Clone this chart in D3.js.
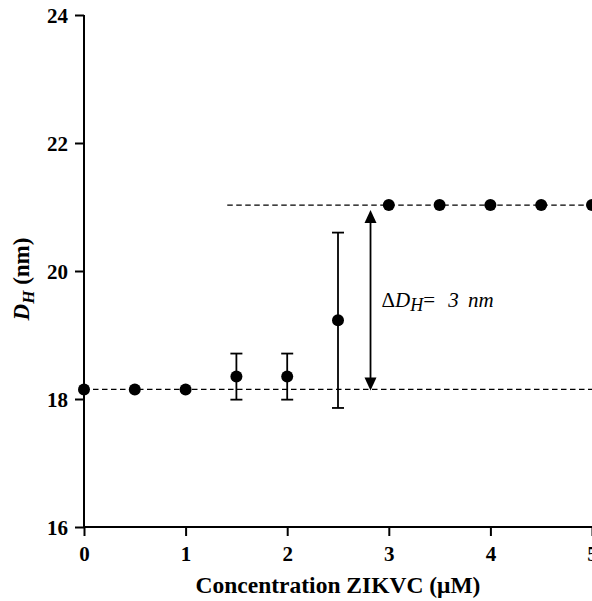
<!DOCTYPE html>
<html>
<head>
<script src="https://cdn.jsdelivr.net/npm/d3@7"></script>
</head>
<body style="margin:0">
<svg id="chart" width="592" height="601"></svg>
<script>
// Hydrodynamic diameter vs. ZIKVC concentration
const concentrations = [0, 0.5, 1, 1.5, 2, 2.5, 3, 3.5, 4, 4.5, 5];
const diameters      = [18.15, 18.15, 18.15, 18.35, 18.35, 19.23, 21.03, 21.03, 21.03, 21.03, 21.03];
const errors         = [0, 0, 0, 0.36, 0.36, 1.37, 0, 0, 0, 0, 0];

const xTicks = [0, 1, 2, 3, 4, 5];
const yTicks = [16, 18, 20, 22, 24];

// Reference levels: baseline plateau and upper plateau
const baselineLevel = 18.15;
const plateauLevel  = 21.03;
const baselineStart = 0;
const plateauStart  = 1.41;
const arrowAt       = 2.82;

const SERIF = "Liberation Serif";

const svg = d3.select("#chart");
const plot = { left: 84, right: 592, top: 15, bottom: 527 };

const x = d3.scaleLinear().domain([0, 5]).range([plot.left, plot.right]);
const y = d3.scaleLinear().domain([16, 24]).range([plot.bottom, plot.top]);

// Dashed reference lines
const dash = "5.5,3.5";
svg.append("line")
  .attr("x1", x(baselineStart)).attr("x2", x(5))
  .attr("y1", y(baselineLevel)).attr("y2", y(baselineLevel))
  .attr("stroke", "#000").attr("stroke-width", 1.4).attr("stroke-dasharray", dash);
svg.append("line")
  .attr("x1", x(plateauStart)).attr("x2", x(5))
  .attr("y1", y(plateauLevel)).attr("y2", y(plateauLevel))
  .attr("stroke", "#000").attr("stroke-width", 1.4).attr("stroke-dasharray", dash);

// Axes
const yAxis = d3.axisLeft(y).tickValues(yTicks).tickSize(9).tickPadding(7).tickFormat(d3.format("d"));
const xAxis = d3.axisBottom(x).tickValues(xTicks).tickSize(9).tickPadding(10).tickFormat(d3.format("d"));

const gy = svg.append("g").attr("transform", `translate(${plot.left},0)`).call(yAxis);
const gx = svg.append("g").attr("transform", `translate(0,${plot.bottom})`).call(xAxis);

[gx, gy].forEach(g => {
  g.attr("font-family", null).attr("font-size", null);
  g.select(".domain").attr("stroke", "#000").attr("stroke-width", 2);
  g.selectAll(".tick line").attr("stroke", "#000").attr("stroke-width", 2);
  g.selectAll(".tick text")
    .style("font-family", SERIF)
    .attr("font-size", 21).attr("font-weight", "bold").attr("fill", "#000");
});
gy.select(".domain").attr("d", `M0,${plot.top}V${plot.bottom}`);
gx.select(".domain").attr("d", `M${plot.left},0H${plot.right}`);
gy.selectAll(".tick text").attr("dy", "0.34em");

// Error bars
const capHalf = 6;
const eb = svg.append("g").attr("stroke", "#000").attr("stroke-width", 1.8);
concentrations.forEach((c, i) => {
  if (errors[i] <= 0) return;
  const cx = x(c), yt = y(diameters[i] + errors[i]), yb = y(diameters[i] - errors[i]);
  eb.append("line").attr("x1", cx).attr("x2", cx).attr("y1", yt).attr("y2", yb);
  eb.append("line").attr("x1", cx - capHalf).attr("x2", cx + capHalf).attr("y1", yt).attr("y2", yt);
  eb.append("line").attr("x1", cx - capHalf).attr("x2", cx + capHalf).attr("y1", yb).attr("y2", yb);
});

// Data points
svg.append("g").selectAll("circle")
  .data(concentrations.map((c, i) => ({ c, d: diameters[i] })))
  .join("circle")
  .attr("cx", d => x(d.c)).attr("cy", d => y(d.d)).attr("r", 6)
  .attr("fill", "#000");

// Double-headed arrow showing the size jump
const ax = x(arrowAt);
const yTop = y(plateauLevel) + 5, yBot = y(baselineLevel) + 1;
const headL = 13, headW = 6;
svg.append("line")
  .attr("x1", ax).attr("x2", ax).attr("y1", yTop + headL - 1).attr("y2", yBot - headL + 1)
  .attr("stroke", "#000").attr("stroke-width", 1.8);
svg.append("path")
  .attr("d", `M${ax},${yTop}L${ax - headW},${yTop + headL}L${ax + headW},${yTop + headL}Z`)
  .attr("fill", "#000");
svg.append("path")
  .attr("d", `M${ax},${yBot}L${ax - headW},${yBot - headL}L${ax + headW},${yBot - headL}Z`)
  .attr("fill", "#000");

// Annotation label: ΔD_H = 3 nm
const lab = svg.append("text")
  .attr("x", ax + 11).attr("y", 307)
  .style("font-family", SERIF).attr("font-size", 21).attr("font-style", "italic");
lab.append("tspan").attr("font-style", "normal").text("Δ");
lab.append("tspan").text("D");
lab.append("tspan").attr("font-size", 18).attr("dy", 4).text("H");
lab.append("tspan").attr("dy", -4).attr("font-style", "normal").text("=");
lab.append("tspan").attr("dx", 8).text(" 3");
lab.append("tspan").attr("dx", 4).text(" nm");

// Axis titles
svg.append("text")
  .attr("x", 338).attr("y", 593)
  .attr("text-anchor", "middle")
  .style("font-family", SERIF).attr("font-size", 23.5).attr("font-weight", "bold")
  .text("Concentration ZIKVC (μM)");

const ytitle = svg.append("text")
  .attr("transform", `translate(29,279) rotate(-90)`)
  .attr("text-anchor", "middle")
  .style("font-family", SERIF).attr("font-size", 23).attr("font-weight", "bold");
ytitle.append("tspan").attr("font-style", "italic").text("D");
ytitle.append("tspan").attr("font-style", "italic").attr("font-size", 17).attr("dy", 5).text("H");
ytitle.append("tspan").attr("dy", -5).text(" (nm)");
</script>
</body>
</html>
